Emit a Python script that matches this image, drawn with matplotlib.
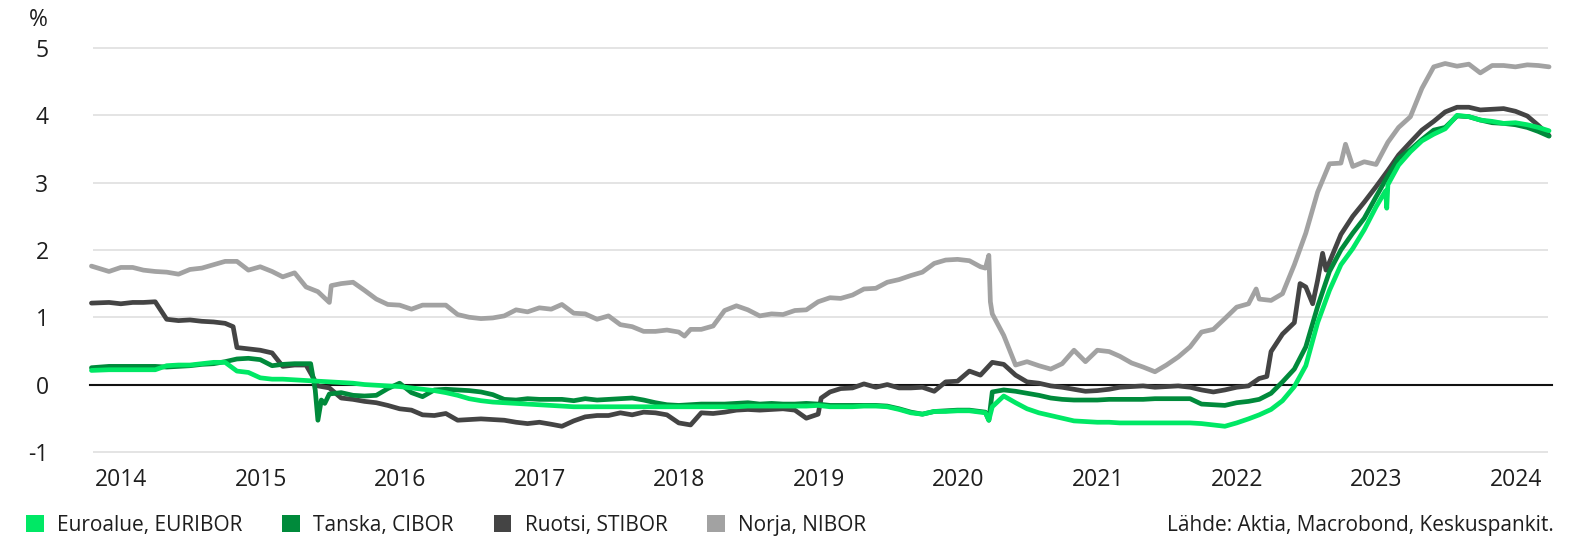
import matplotlib
matplotlib.use("Agg")
import matplotlib.pyplot as plt
import matplotlib.dates as mdates
from matplotlib.patches import Patch
import pandas as pd

# month-end readings; first point is the start of the series, last one the latest fixing
dates = ([pd.Timestamp("2013-10-15")]
         + list(pd.date_range("2013-11-30", "2024-02-29", freq="ME"))
         + [pd.Timestamp("2024-03-28")])

euribor = [0.21, 0.22, 0.22,
           0.22, 0.22, 0.22, 0.28, 0.29, 0.29, 0.31, 0.33, 0.33, 0.20, 0.18, 0.10,
           0.08, 0.08, 0.07, 0.06, 0.05, 0.04, 0.03, 0.02, 0.00, -0.01, -0.02, -0.03,
           -0.05, -0.07, -0.09, -0.12, -0.16, -0.21, -0.24, -0.26, -0.27, -0.28, -0.29, -0.30,
           -0.31, -0.32, -0.33, -0.33, -0.33, -0.33, -0.33, -0.33, -0.33, -0.33, -0.33, -0.33,
           -0.33, -0.33, -0.33, -0.33, -0.33, -0.32, -0.32, -0.32, -0.32, -0.32, -0.32, -0.31,
           -0.33, -0.33, -0.33, -0.32, -0.32, -0.33, -0.37, -0.42, -0.44, -0.40, -0.40, -0.39,
           -0.39, -0.41, -0.33, -0.17, -0.27, -0.36, -0.42, -0.46, -0.50, -0.54, -0.55, -0.56,
           -0.56, -0.57, -0.57, -0.57, -0.57, -0.57, -0.57, -0.57, -0.58, -0.60, -0.62, -0.57,
           -0.51, -0.45, -0.37, -0.24, -0.03, 0.28, 0.92, 1.40, 1.78, 2.02, 2.30, 2.64,
           2.97, 3.26, 3.46, 3.62, 3.72, 3.80, 4.00, 3.98, 3.93, 3.91, 3.88, 3.89,
           3.86, 3.82, 3.77]

cibor = [0.25, 0.27, 0.27,
         0.27, 0.27, 0.27, 0.26, 0.27, 0.28, 0.30, 0.31, 0.34, 0.38, 0.39, 0.37,
         0.28, 0.30, 0.31, 0.31, -0.53, -0.14, -0.12, -0.16, -0.17, -0.16, -0.06, 0.02,
         -0.12, -0.18, -0.08, -0.07, -0.08, -0.09, -0.11, -0.15, -0.22, -0.23, -0.21, -0.22,
         -0.22, -0.22, -0.24, -0.21, -0.23, -0.22, -0.21, -0.20, -0.23, -0.27, -0.30, -0.31,
         -0.30, -0.29, -0.29, -0.29, -0.28, -0.27, -0.29, -0.28, -0.29, -0.29, -0.28, -0.29,
         -0.31, -0.31, -0.31, -0.31, -0.31, -0.32, -0.36, -0.41, -0.44, -0.40, -0.39, -0.38,
         -0.38, -0.40, -0.11, -0.08, -0.10, -0.13, -0.16, -0.20, -0.22, -0.23, -0.23, -0.23,
         -0.22, -0.22, -0.22, -0.22, -0.21, -0.21, -0.21, -0.21, -0.29, -0.30, -0.31, -0.27,
         -0.25, -0.22, -0.13, 0.04, 0.23, 0.56, 1.16, 1.68, 2.00, 2.25, 2.47, 2.79,
         3.10, 3.36, 3.49, 3.64, 3.78, 3.82, 3.99, 3.98, 3.93, 3.89, 3.88, 3.86,
         3.82, 3.76, 3.69]

stibor = [1.21, 1.22, 1.20,
          1.22, 1.22, 1.23, 0.97, 0.95, 0.96, 0.94, 0.93, 0.91, 0.55, 0.53, 0.51,
          0.47, 0.27, 0.29, 0.29, -0.02, -0.05, -0.20, -0.22, -0.25, -0.27, -0.31, -0.36,
          -0.38, -0.45, -0.46, -0.43, -0.53, -0.52, -0.51, -0.52, -0.53, -0.56, -0.58, -0.56,
          -0.59, -0.62, -0.54, -0.48, -0.46, -0.46, -0.42, -0.45, -0.41, -0.42, -0.45, -0.57,
          -0.60, -0.42, -0.43, -0.41, -0.38, -0.37, -0.38, -0.37, -0.36, -0.38, -0.50, -0.44,
          -0.11, -0.06, -0.05, 0.01, -0.04, 0.00, -0.05, -0.05, -0.04, -0.10, 0.04, 0.05,
          0.20, 0.14, 0.33, 0.30, 0.14, 0.04, 0.02, -0.02, -0.04, -0.07, -0.10, -0.09,
          -0.07, -0.04, -0.03, -0.02, -0.04, -0.03, -0.02, -0.04, -0.08, -0.11, -0.08, -0.04,
          -0.02, 0.09, 0.49, 0.75, 0.92, 1.45, 1.55, 1.82, 2.23, 2.50, 2.71, 2.94,
          3.18, 3.41, 3.60, 3.78, 3.91, 4.05, 4.12, 4.12, 4.08, 4.09, 4.10, 4.06,
          3.99, 3.85, 3.70]

nibor = [1.76, 1.68, 1.74,
         1.74, 1.70, 1.68, 1.67, 1.64, 1.71, 1.73, 1.78, 1.83, 1.83, 1.70, 1.75,
         1.68, 1.60, 1.66, 1.45, 1.38, 1.22, 1.50, 1.52, 1.40, 1.27, 1.19, 1.18,
         1.12, 1.18, 1.18, 1.18, 1.04, 1.00, 0.98, 0.99, 1.02, 1.11, 1.08, 1.14,
         1.12, 1.19, 1.06, 1.05, 0.97, 1.02, 0.89, 0.86, 0.79, 0.79, 0.81, 0.78,
         0.82, 0.82, 0.87, 1.10, 1.17, 1.11, 1.02, 1.05, 1.04, 1.10, 1.11, 1.23,
         1.29, 1.28, 1.33, 1.42, 1.43, 1.52, 1.56, 1.62, 1.67, 1.80, 1.85, 1.86,
         1.84, 1.75, 1.05, 0.73, 0.29, 0.34, 0.28, 0.23, 0.31, 0.51, 0.34, 0.51,
         0.49, 0.42, 0.32, 0.26, 0.19, 0.29, 0.41, 0.56, 0.78, 0.82, 0.98, 1.15,
         1.20, 1.27, 1.25, 1.35, 1.78, 2.25, 2.86, 3.28, 3.29, 3.24, 3.31, 3.27,
         3.60, 3.82, 3.98, 4.40, 4.72, 4.77, 4.73, 4.76, 4.63, 4.74, 4.74, 4.72,
         4.75, 4.74, 4.72]

# extra fixings where the month-end points miss a sharp move
euribor_extra = {"2020-03-13": -0.42, "2020-03-22": -0.53,
                 "2023-01-25": 2.88, "2023-01-28": 2.62}
cibor_extra = {"2015-05-12": 0.31, "2015-05-24": -0.08, "2015-06-09": -0.23,
               "2015-06-18": -0.28, "2020-03-13": -0.41, "2020-03-22": -0.53}
stibor_extra = {"2014-10-21": 0.86, "2019-01-08": -0.20, "2022-03-20": 0.12,
                "2022-06-15": 1.50, "2022-07-18": 1.20, "2022-08-13": 1.95,
                "2022-08-22": 1.70}
nibor_extra = {"2015-07-05": 1.47, "2018-01-15": 0.72, "2020-03-13": 1.73,
               "2020-03-22": 1.92, "2020-03-26": 1.23, "2022-02-20": 1.42,
               "2022-10-12": 3.57}

labels = ["Euroalue, EURIBOR", "Tanska, CIBOR", "Ruotsi, STIBOR", "Norja, NIBOR"]
colors = ["#00e865", "#008a3b", "#444444", "#a2a2a2"]
source = "Lähde: Aktia, Macrobond, Keskuspankit."


def build(values, extra):
    s = pd.Series(values, index=pd.DatetimeIndex(dates))
    e = pd.Series(extra)
    e.index = pd.to_datetime(e.index)
    return pd.concat([s, e]).sort_index()


series = [build(euribor, euribor_extra), build(cibor, cibor_extra),
          build(stibor, stibor_extra), build(nibor, nibor_extra)]

plt.rcParams["font.family"] = ["Open Sans", "DejaVu Sans"]
plt.rcParams["axes.unicode_minus"] = False
text_color = "#1e1e1e"

fig = plt.figure(figsize=(15.92, 5.36), dpi=100)
ax = fig.add_axes([0.0584, 0.1507, 0.9139, 0.7660])

# draw NIBOR first so EURIBOR ends up on top
for s, c in reversed(list(zip(series, colors))):
    ax.plot(s.index, s.values, color=c, lw=3.4, solid_joinstyle="round",
            solid_capstyle="round", clip_on=False, zorder=3)

ax.axhline(0, xmin=-0.002, xmax=1.0025, color="#111111", lw=1.5, zorder=2,
           clip_on=False)

ax.set_xlim(pd.Timestamp("2013-10-19"), pd.Timestamp("2024-03-25"))
ax.set_ylim(-1.05, 5.05)
ax.set_yticks(range(-1, 6))
ax.xaxis.set_major_locator(mdates.YearLocator())
ax.xaxis.set_major_formatter(mdates.DateFormatter("%Y"))
ax.grid(axis="y", color="#dcdcdc", lw=1.1)
ax.set_axisbelow(True)
for sp in ax.spines.values():
    sp.set_visible(False)
ax.tick_params(axis="both", length=0, labelsize=16.5, colors=text_color)
ax.tick_params(axis="y", pad=32)
ax.tick_params(axis="x", pad=9)

fig.text(48 / 1592, 1 - 20 / 536, "%", ha="right", va="center",
         fontsize=16.5, color=text_color)

handles = [Patch(facecolor=c, edgecolor="none", label=l) for c, l in zip(colors, labels)]
fig.legend(handles=handles, loc="center left",
           bbox_to_anchor=(26 / 1592, 1 - 525 / 536), ncol=4, frameon=False,
           fontsize=15, handlelength=0.85, handleheight=0.85,
           handletextpad=0.65, columnspacing=1.9, borderaxespad=0,
           borderpad=0, labelcolor=text_color)

fig.text(1554 / 1592, 1 - 525 / 536, source, ha="right", va="center",
         fontsize=15, color=text_color)

fig.savefig("out.png", dpi=100)
